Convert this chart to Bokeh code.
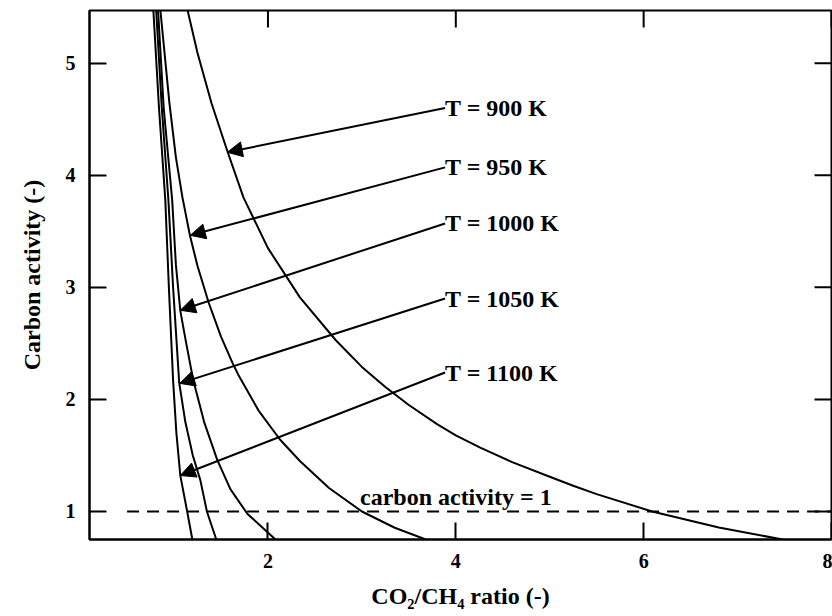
import math
from bokeh.plotting import figure
from bokeh.models import Range1d, Arrow, NormalHead, Label, FixedTicker
from bokeh.embed import file_html
from bokeh.resources import INLINE

FONT = "Liberation Serif"

# ---- data ----
x_900 = [1.08, 1.12, 1.25, 1.40, 1.57, 1.74, 2.00, 2.34, 2.72, 3.00, 3.25, 3.50, 3.80, 4.00, 4.26,
         4.60, 5.00, 5.25, 5.50, 6.09, 6.80, 7.48]
y_900 = [5.75, 5.56, 5.09, 4.64, 4.21, 3.80, 3.35, 2.91, 2.53, 2.29, 2.11, 1.95, 1.78, 1.68, 1.57,
         1.44, 1.31, 1.23, 1.155, 1.00, 0.857, 0.75]

x_950 = [0.835, 0.855, 0.95, 1.02, 1.09, 1.17, 1.25, 1.37, 1.50, 1.62, 1.69, 1.90, 2.13, 2.34, 2.65, 3.00, 3.35, 3.68]
y_950 = [5.75, 5.47, 4.65, 4.16, 3.80, 3.46, 3.19, 2.86, 2.56, 2.33, 2.21, 1.90, 1.64, 1.45, 1.21, 1.00, 0.855, 0.75]

x_1000 = [0.815, 0.83, 0.89, 0.98, 1.02, 1.067, 1.13, 1.205, 1.32, 1.46, 1.60, 1.78, 2.08]
y_1000 = [5.75, 5.47, 4.60, 3.78, 3.20, 2.79, 2.50, 2.17, 1.80, 1.46, 1.20, 0.98, 0.75]

x_1050 = [0.795, 0.81, 0.87, 0.94, 0.99, 1.055, 1.12, 1.20, 1.28, 1.35, 1.45]
y_1050 = [5.75, 5.47, 4.60, 3.78, 3.00, 2.15, 1.80, 1.50, 1.28, 1.00, 0.75]

x_1100 = [0.765, 0.78, 0.84, 0.907, 0.945, 0.99, 1.025, 1.067, 1.14, 1.195]
y_1100 = [5.75, 5.47, 4.60, 3.78, 3.00, 2.17, 1.70, 1.32, 1.00, 0.75]

labels = ["T = 900 K", "T = 950 K", "T = 1000 K", "T = 1050 K", "T = 1100 K"]
label_x = [3.886, 3.886, 3.886, 3.886, 3.886]
label_y = [4.60, 4.07, 3.57, 2.90, 2.24]
tip_x = [1.567, 1.173, 1.067, 1.060, 1.067]
tip_y = [4.205, 3.464, 2.795, 2.143, 1.321]

x_ticks = [2, 4, 6, 8]
y_ticks = [1, 2, 3, 4, 5]
x_lim = (0.1, 8.0)
y_lim = (0.75, 5.47)
ref_level = 1.0
ref_start = 0.5
ref_text = "carbon activity = 1"

# ---- figure ----
p = figure(width=832, height=616, output_backend="svg", toolbar_location=None,
           x_range=Range1d(*x_lim), y_range=Range1d(*y_lim),
           min_border_left=89, min_border_right=1, min_border_top=10, min_border_bottom=77)
p.background_fill_color = "white"
p.border_fill_color = "white"
p.grid.visible = False
p.outline_line_color = "black"
p.outline_line_width = 2

for ax in (p.xaxis[0], p.yaxis[0]):
    ax.major_tick_in = 17
    ax.major_tick_out = 0
    ax.minor_tick_line_color = None
    ax.axis_line_width = 2
    ax.major_tick_line_width = 2
    ax.major_label_text_font = FONT
    ax.major_label_text_font_style = "bold"
    ax.major_label_text_font_size = "20px"
    ax.major_label_text_color = "black"
    ax.major_label_standoff = 14
    ax.axis_label_text_font = FONT
    ax.axis_label_text_font_style = "bold"
    ax.axis_label_text_font_size = "24px"
    ax.axis_label_text_color = "black"

p.xaxis[0].ticker = FixedTicker(ticks=x_ticks)
p.yaxis[0].ticker = FixedTicker(ticks=y_ticks)
p.xaxis[0].axis_label = "CO\u2082/CH\u2084 ratio (-)"
p.yaxis[0].axis_label = "Carbon activity (-)"
p.xaxis[0].axis_label_standoff = 12
p.yaxis[0].axis_label_standoff = 18

# mirrored inward ticks on the top and right edges
p.ray(x=x_ticks, y=[y_lim[1]] * len(x_ticks), length=17, length_units="screen",
      angle=-math.pi / 2, line_color="black", line_width=2)
p.ray(x=[x_lim[1]] * len(y_ticks), y=y_ticks, length=17, length_units="screen",
      angle=math.pi, line_color="black", line_width=2)

# curves
for xs, ys in [(x_900, y_900), (x_950, y_950), (x_1000, y_1000), (x_1050, y_1050), (x_1100, y_1100)]:
    p.line(xs, ys, line_color="black", line_width=2, line_join="round")

# reference dashed line
p.line([ref_start, x_lim[1]], [ref_level, ref_level], line_color="black", line_width=2, line_dash="12 8")
p.add_layout(Label(x=4.0, y=ref_level, text=ref_text, text_align="center", text_baseline="bottom",
                   y_offset=1, text_font=FONT, text_font_style="bold", text_font_size="24px",
                   text_color="black"))

# arrows and labels
for t, lx, ly, tx, ty in zip(labels, label_x, label_y, tip_x, tip_y):
    p.add_layout(Arrow(x_start=lx, y_start=ly, x_end=tx, y_end=ty, line_width=2, line_color="black",
                       end=NormalHead(size=15, fill_color="black", line_color="black", line_width=1)))
    p.add_layout(Label(x=lx, y=ly, text=t, text_align="left", text_baseline="middle",
                       text_font=FONT, text_font_style="bold", text_font_size="24px",
                       text_color="black"))

open("out.html", "w").write(file_html(p, INLINE))
